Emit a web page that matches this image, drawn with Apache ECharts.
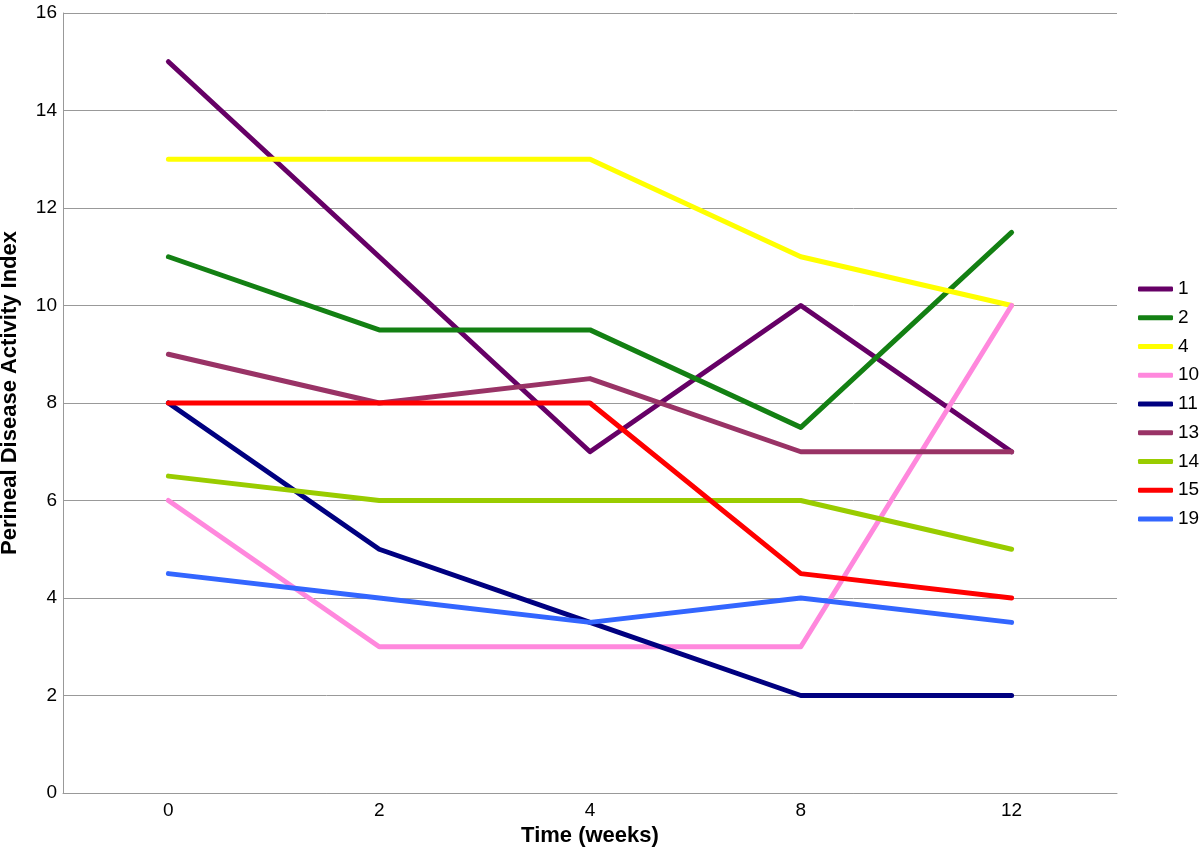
<!DOCTYPE html>
<html><head><meta charset="utf-8">
<script src="https://cdn.jsdelivr.net/npm/echarts@6/dist/echarts.min.js"></script>
<style>html,body{margin:0;padding:0;background:#fff}#c{width:1200px;height:848px}</style>
</head><body><div id="c"></div>
<script>
const categories = ['0','2','4','8','12'];
const names = ['1','2','4','10','11','13','14','15','19'];
const s1  = [15, 11, 7, 10, 7];
const s2  = [11, 9.5, 9.5, 7.5, 11.5];
const s4  = [13, 13, 13, 11, 10];
const s10 = [6, 3, 3, 3, 10];
const s11 = [8, 5, 3.5, 2, 2];
const s13 = [9, 8, 8.5, 7, 7];
const s14 = [6.5, 6, 6, 6, 5];
const s15 = [8, 8, 8, 4.5, 4];
const s19 = [4.5, 4, 3.5, 4, 3.5];
const values = [s1, s2, s4, s10, s11, s13, s14, s15, s19];
const colors = ['#660066','#138013','#ffff00','#ff88dd','#000080','#993366','#99cc00','#ff0000','#3366ff'];

const chart = echarts.init(document.getElementById('c'));
const font = 'Liberation Sans, Arial, Helvetica, sans-serif';
chart.setOption({
  animation: false,
  textStyle: {fontFamily: font},
  grid: {left: 63, right: 83, top: 13, bottom: 55, outerBoundsMode: 'none', containLabel: false},
  legend: {
    orient: 'vertical', left: 1133, top: 274,
    itemWidth: 35, itemHeight: 5, itemGap: 8.75,
    icon: 'roundRect',
    textStyle: {fontSize: 19, lineHeight: 20, color: '#000', fontFamily: font},
    data: names
  },
  xAxis: {
    type: 'category', data: categories, boundaryGap: true,
    name: 'Time (weeks)', nameLocation: 'middle', nameGap: 30,
    nameTextStyle: {fontSize: 22, fontWeight: 'bold', color: '#000', fontFamily: font},
    axisLine: {lineStyle: {color: '#999', width: 1}},
    axisTick: {show: false},
    axisLabel: {fontSize: 19, color: '#000', margin: 8, fontFamily: font}
  },
  yAxis: {
    type: 'value', min: 0, max: 16, interval: 2,
    name: 'Perineal Disease Activity Index', nameLocation: 'middle', nameGap: 42,
    nameTextStyle: {fontSize: 22, fontWeight: 'bold', color: '#000', fontFamily: font, padding: [0,0,0,20]},
    axisLine: {show: true, lineStyle: {color: '#999', width: 1}},
    axisTick: {show: false},
    axisLabel: {fontSize: 19, color: '#000', margin: 6, fontFamily: font},
    splitLine: {lineStyle: {color: '#999', width: 1}}
  },
  series: names.map((n, i) => ({
    name: n, type: 'line', data: values[i],
    showSymbol: false, symbol: 'none',
    lineStyle: {color: colors[i], width: 5, cap: 'round', join: 'round'},
    itemStyle: {color: colors[i]}
  }))
});
</script></body></html>
